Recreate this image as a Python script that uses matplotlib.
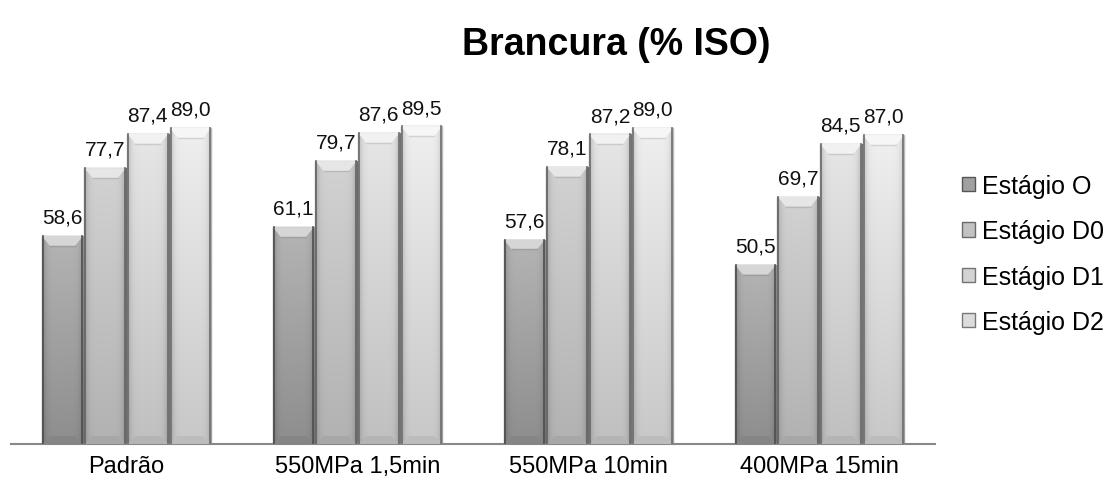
import numpy as np
import matplotlib.pyplot as plt
from matplotlib.colors import to_rgb
from matplotlib.patches import Patch

plt.rcParams['font.family'] = ['Liberation Sans', 'DejaVu Sans']

categories = ['Padrão', '550MPa 1,5min', '550MPa 10min', '400MPa 15min']
series = ['Estágio O', 'Estágio D0', 'Estágio D1', 'Estágio D2']
estagio_o = [58.6, 61.1, 57.6, 50.5]
estagio_d0 = [77.7, 79.7, 78.1, 69.7]
estagio_d1 = [87.4, 87.6, 87.2, 84.5]
estagio_d2 = [89.0, 89.5, 89.0, 87.0]
values = [estagio_o, estagio_d0, estagio_d1, estagio_d2]
# bottom / top colour of each series
bottom_colors = ['#8e8e8e', '#b2b2b2', '#c0c0c0', '#c8c8c8']
top_colors = ['#b4b4b4', '#d2d2d2', '#e6e6e6', '#efefef']

W, H = 1116, 489
fig = plt.figure(figsize=(W / 100, H / 100), dpi=100)
ax = fig.add_axes([11 / W, 44 / H, 924 / W, 355 / H])

x = np.arange(len(categories))
width = 0.185


def mix(a, b, t):
    a, b = np.array(to_rgb(a)), np.array(to_rgb(b))
    return a + (b - a) * t


for i, vals in enumerate(values):
    c0, c1 = bottom_colors[i], top_colors[i]
    pos = x + (i - 1.5) * width
    bars = ax.bar(pos, vals, width * 0.97, color=c0, edgecolor=mix(c0, '#000000', 0.4),
                  linewidth=0.9, zorder=2)
    for b, v in zip(bars, vals):
        x0, w = b.get_x(), b.get_width()
        ty = np.linspace(0, 1, 80)[:, None]
        tx = np.linspace(0, 1, 50)[None, :]
        edge = np.abs(2 * tx - 1) ** 6
        img = np.empty((80, 50, 3))
        for k in range(3):
            lo, hi = to_rgb(c0)[k], to_rgb(c1)[k]
            img[..., k] = (lo + (hi - lo) * ty) * (1 - 0.22 * edge)
        im = ax.imshow(img[::-1], extent=[x0, x0 + w, 0, v], aspect='auto', zorder=2.5,
                       interpolation='bilinear')
        im.set_clip_path(b)
        # bevel at the top and bottom
        bev = 2.8
        top = plt.Polygon([[x0, v], [x0 + w, v], [x0 + w * 0.8, v - bev],
                           [x0 + w * 0.2, v - bev]], closed=True,
                          facecolor=mix(c1, '#ffffff', 0.45), edgecolor='none', zorder=3)
        ax.add_patch(top)
        ax.plot([x0 + w * 0.2, x0 + w * 0.8], [v - bev, v - bev],
                color=mix(c1, '#000000', 0.12), lw=1, zorder=3)
        bot = plt.Polygon([[x0, 0], [x0 + w, 0], [x0 + w * 0.8, bev * 0.8],
                           [x0 + w * 0.2, bev * 0.8]], closed=True,
                          facecolor=mix(c0, '#000000', 0.06), edgecolor='none', zorder=3)
        ax.add_patch(bot)
        ax.plot([x0 + 0.004, x0 + 0.004], [0, v], color=mix(c0, '#000000', 0.45),
                lw=1.2, zorder=3.2)
        ax.plot([x0 + w - 0.004, x0 + w - 0.004], [0, v], color=mix(c0, '#000000', 0.45),
                lw=1.2, zorder=3.2)
        ax.text(x0 + w / 2, v + 2.6, f'{v:.1f}'.replace('.', ','),
                ha='center', va='bottom', fontsize=15, color='#111111', zorder=4)

ax.set_xlim(-0.5, len(categories) - 0.5)
ax.set_ylim(0, 100)
ax.set_xticks(x)
ax.set_xticklabels(categories, fontsize=17)
ax.tick_params(axis='x', length=0, pad=8)
ax.set_yticks([])
for s in ['left', 'right', 'top']:
    ax.spines[s].set_visible(False)
ax.spines['bottom'].set_color('#888888')
ax.spines['bottom'].set_linewidth(1.5)

fig.text(616 / W, 1 - 45 / H, 'Brancura (% ISO)', ha='center', va='center',
         fontsize=27, fontweight='bold')

handles = [Patch(facecolor=mix(bottom_colors[k], top_colors[k], 0.5),
                 edgecolor=mix(bottom_colors[k], '#000000', 0.4)) for k in range(4)]
fig.legend(handles, series, loc='center left', bbox_to_anchor=(962 / W, 1 - 255 / H),
           frameon=False, fontsize=18, labelspacing=0.85, handlelength=0.5,
           handleheight=0.5, handletextpad=0.3, borderpad=0, borderaxespad=0)

fig.savefig('out.png', dpi=100)
